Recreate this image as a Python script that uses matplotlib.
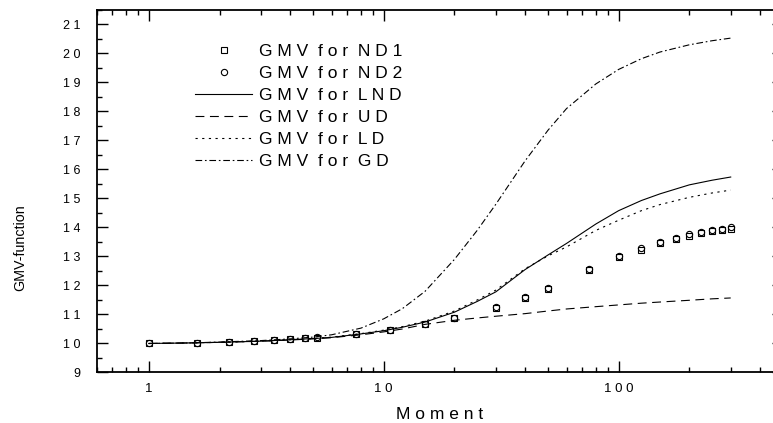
import matplotlib
matplotlib.use("Agg")
import matplotlib.pyplot as plt
from matplotlib.ticker import FixedLocator, FuncFormatter, LogLocator, MultipleLocator, NullFormatter

# ---- data ----
moments_nd = [1, 1.6, 2.2, 2.8, 3.4, 4, 4.6, 5.2, 7.6, 10.6, 15, 20, 30, 40, 50,
              75, 100, 125, 150, 175, 200, 225, 250, 275, 300]
gmv_nd1 = [10.00, 10.02, 10.06, 10.09, 10.11, 10.15, 10.18, 10.20, 10.32, 10.46, 10.66, 10.87,
           11.23, 11.58, 11.89, 12.53, 12.97, 13.24, 13.45, 13.60, 13.72, 13.81, 13.88, 13.92, 13.96]
gmv_nd2 = [10.00, 10.02, 10.06, 10.09, 10.12, 10.15, 10.18, 10.21, 10.33, 10.47, 10.68, 10.89,
           11.26, 11.61, 11.92, 12.57, 13.01, 13.28, 13.49, 13.64, 13.76, 13.85, 13.92, 13.96, 14.00]

moments = [1, 1.5, 2, 3, 4, 5, 6, 8, 10, 12, 15, 20, 25, 30, 40, 50, 60, 80, 100, 125, 150, 200, 250, 300]
gmv_lnd = [10.00, 10.02, 10.04, 10.08, 10.13, 10.17, 10.21, 10.33, 10.44, 10.56, 10.74, 11.08,
           11.45, 11.78, 12.55, 13.05, 13.45, 14.12, 14.58, 14.93, 15.16, 15.47, 15.63, 15.74]
gmv_ud = [10.00, 10.02, 10.04, 10.08, 10.12, 10.16, 10.20, 10.30, 10.40, 10.50, 10.66, 10.80,
          10.88, 10.94, 11.03, 11.12, 11.19, 11.27, 11.33, 11.39, 11.43, 11.49, 11.54, 11.57]
gmv_ld = [10.00, 10.02, 10.04, 10.08, 10.13, 10.17, 10.22, 10.34, 10.46, 10.58, 10.77, 11.12,
          11.50, 11.84, 12.58, 13.02, 13.33, 13.90, 14.25, 14.58, 14.79, 15.04, 15.19, 15.29]
gmv_gd = [10.00, 10.02, 10.05, 10.10, 10.16, 10.22, 10.30, 10.53, 10.85, 11.20, 11.80, 12.90,
          13.90, 14.80, 16.30, 17.35, 18.10, 18.95, 19.45, 19.82, 20.05, 20.30, 20.44, 20.53]

labels = ["GMV for ND1", "GMV for ND2", "GMV for LND", "GMV for UD", "GMV for LD", "GMV for GD"]
x_ticks = [1, 10, 100]
y_ticks = list(range(9, 22))


def spaced(text):
    """ wide letter spacing like the original figure """
    return "  ".join(" ".join(word) for word in text.split(" "))


plt.rcParams["font.family"] = ["Liberation Sans", "DejaVu Sans"]

fig = plt.figure(figsize=(7.73, 4.23), dpi=100)
ax = fig.add_axes([0.1251, 0.1194, 0.8876, 0.857])

lw = 0.8
ax.plot(moments_nd, gmv_nd1, ls="none", marker="s", ms=4, mfc="none", mec="black", mew=0.8,
        label=spaced(labels[0]))
ax.plot(moments_nd, gmv_nd2, ls="none", marker="o", ms=4.5, mfc="none", mec="black", mew=0.8,
        label=spaced(labels[1]))
ax.plot(moments, gmv_lnd, color="black", lw=lw, ls="-", label=spaced(labels[2]))
ax.plot(moments, gmv_ud, color="black", lw=lw, ls=(0, (8, 5)), label=spaced(labels[3]))
ax.plot(moments, gmv_ld, color="black", lw=lw, ls=(0, (2, 4)), label=spaced(labels[4]))
ax.plot(moments, gmv_gd, color="black", lw=lw, ls=(0, (6, 2.5, 1.5, 2.5)), label=spaced(labels[5]))

ax.set_xscale("log")
ax.set_xlim(0.6, 500)
ax.set_ylim(9, 21.5)

ax.xaxis.set_major_locator(FixedLocator(x_ticks))
ax.xaxis.set_minor_locator(LogLocator(base=10, subs=range(2, 10)))
ax.xaxis.set_minor_formatter(NullFormatter())
ax.yaxis.set_major_locator(FixedLocator(y_ticks))
ax.yaxis.set_minor_locator(MultipleLocator(0.5))

tick_fmt = FuncFormatter(lambda v, pos: " ".join(f"{v:g}"))
ax.xaxis.set_major_formatter(tick_fmt)
ax.yaxis.set_major_formatter(tick_fmt)

ax.tick_params(which="both", direction="in", top=True, right=True, width=1.0, colors="black")
ax.tick_params(which="major", length=8)
ax.tick_params(which="minor", length=3.5)
ax.tick_params(axis="x", which="major", pad=7.5, labelsize=9.5)
ax.tick_params(axis="y", which="major", pad=12, labelsize=9)

for sp in ax.spines.values():
    sp.set_linewidth(1.3)

ax.set_xlabel(spaced("Moment"), fontsize=12.5, labelpad=9)
fig.text(20 / 773, 1 - 248 / 423, "GMV-function", rotation=90, ha="center", va="center", fontsize=10.3)

ax.legend(loc="upper left", bbox_to_anchor=(195 / 773, 1 - 44 / 423), bbox_transform=fig.transFigure,
          frameon=False, fontsize=12.5, handlelength=3.3, handletextpad=0.4, labelspacing=0.39,
          borderpad=0, borderaxespad=0, numpoints=1)

fig.savefig("out.png", dpi=100)
